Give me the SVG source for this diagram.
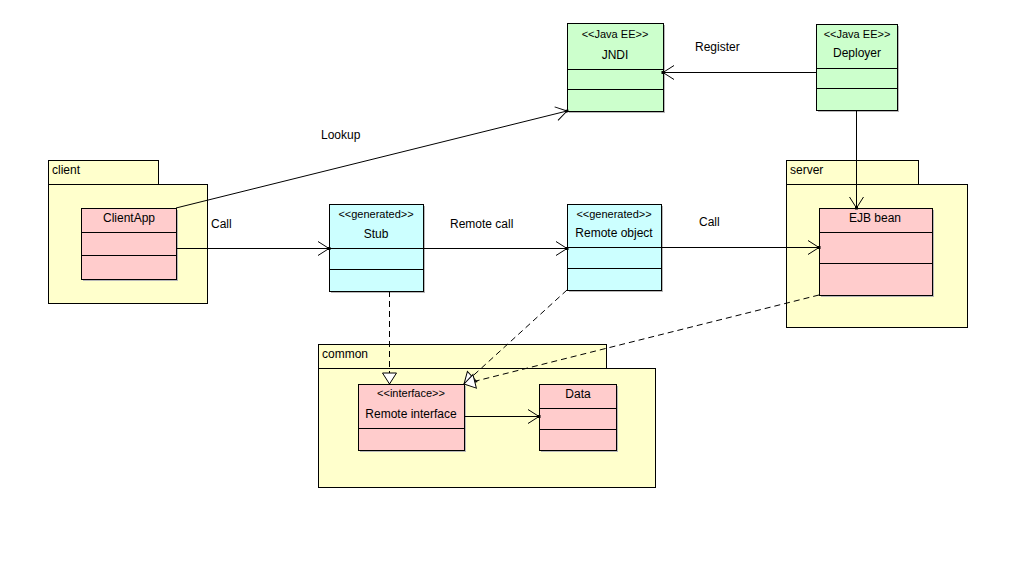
<svg xmlns="http://www.w3.org/2000/svg" width="1016" height="561" viewBox="0 0 1016 561">
<style>
text{font-family:"Liberation Sans",Arial,sans-serif;font-size:12px;fill:#000}
.st{font-size:11px}
.c{text-anchor:middle}
.pk{fill:#FFFFCC;stroke:#000;stroke-width:1}
.g{fill:#CCFFCC;stroke:#000;stroke-width:1}
.b{fill:#CCFFFF;stroke:#000;stroke-width:1}
.p{fill:#FFCCCC;stroke:#000;stroke-width:1}
.sh{fill:#b8b8b8}
.ln{stroke:#000;stroke-width:1;fill:none}
.d{stroke:#000;stroke-width:1;fill:none;stroke-dasharray:6,4}
</style>
<defs>
<marker id="open" markerUnits="userSpaceOnUse" markerWidth="20" markerHeight="20" refX="14" refY="8" orient="auto" overflow="visible">
<path d="M3,1 L14,8 L3,15" fill="none" stroke="#000" stroke-width="1"/>
<rect x="12.5" y="6.5" width="3" height="3" fill="#000"/>
</marker>
<marker id="tri" markerUnits="userSpaceOnUse" markerWidth="20" markerHeight="20" refX="14" refY="8" orient="auto" overflow="visible">
<path d="M3,1 L14,8 L3,15 Z" fill="#fff" stroke="#000" stroke-width="1"/>
</marker>
</defs>
<rect width="1016" height="561" fill="#fff"/>

<g id="pkg-client">
<rect class="pk" x="48.5" y="160.5" width="110" height="24"/>
<rect class="pk" x="48.5" y="184.5" width="159" height="119"/>
<text x="52" y="174">client</text>
</g>
<g id="pkg-server">
<rect class="pk" x="786.5" y="160.5" width="132" height="24"/>
<rect class="pk" x="786.5" y="184.5" width="181" height="143"/>
<text x="790" y="174">server</text>
</g>
<g id="pkg-common">
<rect class="pk" x="318.5" y="344.5" width="288" height="24"/>
<rect class="pk" x="318.5" y="368.5" width="337" height="119"/>
<text x="322" y="358">common</text>
</g>

<g id="JNDI">
<rect class="sh" x="569" y="25" width="96" height="88"/>
<rect class="g" x="567.5" y="23.5" width="96" height="88"/>
<line class="ln" x1="567.5" y1="69.5" x2="663.5" y2="69.5"/>
<line class="ln" x1="567.5" y1="89.5" x2="663.5" y2="89.5"/>
<text class="st c" x="615" y="38">&lt;&lt;Java EE&gt;&gt;</text>
<text class="c" x="615" y="59">JNDI</text>
</g>
<g id="Deployer">
<rect class="sh" x="818" y="26" width="81" height="86"/>
<rect class="g" x="816.5" y="24.5" width="81" height="86"/>
<line class="ln" x1="816.5" y1="68.5" x2="897.5" y2="68.5"/>
<line class="ln" x1="816.5" y1="88.5" x2="897.5" y2="88.5"/>
<text class="st c" x="857" y="38">&lt;&lt;Java EE&gt;&gt;</text>
<text class="c" x="857" y="57">Deployer</text>
</g>
<g id="ClientApp">
<rect class="sh" x="83" y="210" width="95" height="71"/>
<rect class="p" x="81.5" y="208.5" width="95" height="71"/>
<line class="ln" x1="81.5" y1="232.5" x2="176.5" y2="232.5"/>
<line class="ln" x1="81.5" y1="255.5" x2="176.5" y2="255.5"/>
<text class="c" x="129" y="222">ClientApp</text>
</g>
<g id="Stub">
<rect class="sh" x="331" y="206" width="94" height="87"/>
<rect class="b" x="329.5" y="204.5" width="94" height="87"/>
<line class="ln" x1="329.5" y1="248.5" x2="423.5" y2="248.5"/>
<line class="ln" x1="329.5" y1="269.5" x2="423.5" y2="269.5"/>
<text class="st c" x="376" y="218">&lt;&lt;generated&gt;&gt;</text>
<text class="c" x="376" y="238">Stub</text>
</g>
<g id="RemoteObject">
<rect class="sh" x="569" y="206" width="94" height="86"/>
<rect class="b" x="567.5" y="204.5" width="94" height="86"/>
<line class="ln" x1="567.5" y1="247.5" x2="661.5" y2="247.5"/>
<line class="ln" x1="567.5" y1="268.5" x2="661.5" y2="268.5"/>
<text class="st c" x="614" y="218">&lt;&lt;generated&gt;&gt;</text>
<text class="c" x="614" y="237">Remote object</text>
</g>
<g id="EJBbean">
<rect class="sh" x="821" y="210" width="113" height="87"/>
<rect class="p" x="819.5" y="208.5" width="113" height="87"/>
<line class="ln" x1="819.5" y1="232.5" x2="932.5" y2="232.5"/>
<line class="ln" x1="819.5" y1="263.5" x2="932.5" y2="263.5"/>
<text class="c" x="875" y="222">EJB bean</text>
</g>
<g id="RemoteInterface">
<rect class="sh" x="360" y="386" width="106" height="66"/>
<rect class="p" x="358.5" y="384.5" width="106" height="66"/>
<line class="ln" x1="358.5" y1="428.5" x2="464.5" y2="428.5"/>
<text class="st c" x="411" y="397">&lt;&lt;interface&gt;&gt;</text>
<text class="c" x="411" y="418">Remote interface</text>
</g>
<g id="Data">
<rect class="sh" x="541" y="386" width="77" height="66"/>
<rect class="p" x="539.5" y="384.5" width="77" height="66"/>
<line class="ln" x1="539.5" y1="408.5" x2="616.5" y2="408.5"/>
<line class="ln" x1="539.5" y1="429.5" x2="616.5" y2="429.5"/>
<text class="c" x="578" y="398">Data</text>
</g>

<g id="connectors">
<line class="ln" x1="176" y1="208" x2="567" y2="111" marker-end="url(#open)"/>
<line class="ln" x1="816" y1="72.5" x2="663" y2="72.5" marker-end="url(#open)"/>
<line class="ln" x1="856.5" y1="110" x2="856.5" y2="208" marker-end="url(#open)"/>
<line class="ln" x1="176" y1="248.5" x2="329" y2="248.5" marker-end="url(#open)"/>
<line class="ln" x1="423" y1="248.5" x2="567" y2="248.5" marker-end="url(#open)"/>
<line class="ln" x1="661" y1="247.5" x2="819" y2="247.5" marker-end="url(#open)"/>
<line class="ln" x1="464" y1="416.5" x2="539" y2="416.5" marker-end="url(#open)"/>
<line class="d" x1="389.5" y1="291" x2="389.5" y2="384" marker-end="url(#tri)"/>
<line class="d" x1="567" y1="290" x2="464" y2="384" marker-end="url(#tri)"/>
<line class="d" x1="819" y1="295" x2="464" y2="384" marker-end="url(#tri)"/>
<text x="321" y="139">Lookup</text>
<text x="695" y="51">Register</text>
<text x="211" y="228">Call</text>
<text x="450" y="228">Remote call</text>
<text x="699" y="226">Call</text>
</g>
</svg>
